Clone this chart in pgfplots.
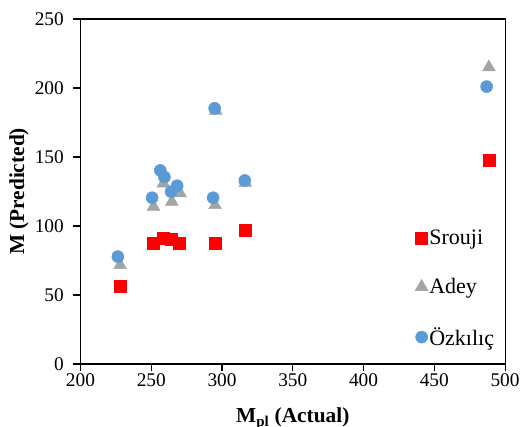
\documentclass[border=0pt]{standalone}
\usepackage{fontspec}
\setmainfont{Liberation Serif}
\usepackage{pgfplots}
\pgfplotsset{compat=1.18}
\definecolor{srred}{HTML}{FF0000}
\definecolor{adgray}{HTML}{A5A5A5}
\definecolor{ozblue}{HTML}{5B9BD5}
\begin{document}
\begin{tikzpicture}
\begin{axis}[
  at={(0,0)}, anchor=south west,
  scale only axis, width=318.4pt, height=258.75pt,
  xmin=200, xmax=500, ymin=0, ymax=250,
  xtick={200,250,...,500}, ytick={0,50,...,250},
  tick align=outside, xtick pos=bottom, ytick pos=left,
  major tick length=5.5pt,
  axis line style={line width=0.8pt},
  every tick/.style={black, line width=0.8pt},
  /pgf/number format/assume math mode=true,
  tick label style={font=\fontsize{14.5}{16}\selectfont},
  xticklabel style={anchor=north, yshift=2pt},
  yticklabel style={anchor=east, xshift=-3.5pt},
  xlabel={M\textsubscript{pl} (Actual)},
  ylabel={M (Predicted)},
  label style={font=\fontsize{16}{18}\selectfont\bfseries},
  xlabel style={at={(axis description cs:0.5,0)}, anchor=base, yshift=-44pt},
  ylabel style={at={(axis description cs:-0.1448,0.5)}, anchor=center},
  legend style={draw=none, fill=none, inner sep=0pt,
    at={(0.788,0.219)}, anchor=west,
    font=\fontsize{16.5}{19}\selectfont,
    row sep=21.8pt,
    nodes={inner sep=1pt}},
  legend cell align=left,
  legend image code/.code={\draw[mark repeat=2,mark phase=2,#1] plot coordinates {(0pt,0pt) (5pt,0pt) (12pt,0pt)};},
]
\addplot[only marks, mark=square*, mark size=4.5pt, color=srred, mark options={draw=srred, fill=srred}]
coordinates {(228,56) (251.3,87.7) (258.4,91.3) (264,90.6) (269.7,87.7) (295.5,87.7) (316.3,97) (488.6,147.3)};
\addlegendentry{Srouji}
\addplot[only marks, mark=triangle*, mark size=5.5pt, color=adgray, mark options={draw=adgray, fill=adgray}]
coordinates {(228,71.7) (251.6,114) (258.6,130.9) (264.5,117.6) (270.4,123.7) (295.1,115.2) (295.6,183.5) (316.5,131.4) (488.6,215)};
\addlegendentry{Adey}
\addplot[only marks, mark=*, mark size=4.5pt, color=ozblue, mark options={draw=ozblue, fill=ozblue}]
coordinates {(226.4,77.8) (250.6,120.5) (256.4,140.3) (259.3,135.5) (264,124.9) (268.3,129.2) (293.7,120.5) (294.8,185.3) (316.1,133) (487,201)};
\addlegendentry{Özkılıç}
\end{axis}
\pgfresetboundingbox
\path (-60.375pt,-46.5pt) rectangle (330.375pt,273pt);
\end{tikzpicture}
\end{document}
